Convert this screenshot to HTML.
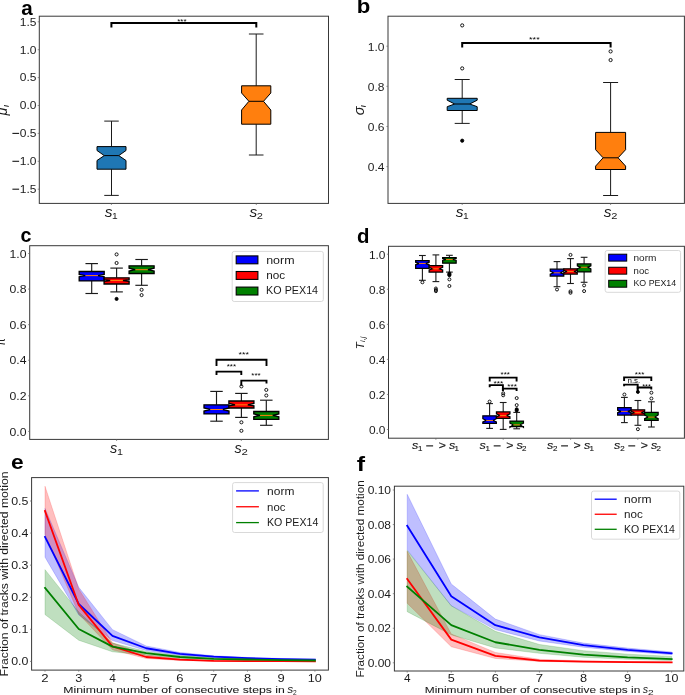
<!DOCTYPE html>
<html><head><meta charset="utf-8"><style>
html,body{margin:0;padding:0;background:#fff;width:685px;height:695px;overflow:hidden}
svg{display:block;will-change:transform}
text{font-family:"Liberation Sans", sans-serif}
</style></head><body>
<svg width="685" height="695" viewBox="0 0 685 695">
<rect x="0" y="0" width="685" height="695" fill="#fff"/>
<text x="21.38" y="14.5" font-family='"Liberation Sans", sans-serif' font-size="19.5" font-weight="bold" font-style="normal" text-anchor="start" fill="#000" textLength="11.49" lengthAdjust="spacingAndGlyphs" >a</text>
<rect x="39.3" y="16.2" width="289.2" height="187.2" rx="0" fill="none" stroke="#383838" stroke-width="1" />
<line x1="37.7" y1="21.8" x2="39.3" y2="21.8" stroke="#666" stroke-width="0.7" stroke-linecap="butt" />
<text x="36.5" y="25.6" font-family='"Liberation Sans", sans-serif' font-size="10.8" font-weight="normal" font-style="normal" text-anchor="end" fill="#1a1a1a" textLength="16.67" lengthAdjust="spacingAndGlyphs" >1.5</text>
<line x1="37.7" y1="49.7" x2="39.3" y2="49.7" stroke="#666" stroke-width="0.7" stroke-linecap="butt" />
<text x="36.5" y="53.5" font-family='"Liberation Sans", sans-serif' font-size="10.8" font-weight="normal" font-style="normal" text-anchor="end" fill="#1a1a1a" textLength="16.67" lengthAdjust="spacingAndGlyphs" >1.0</text>
<line x1="37.7" y1="77.6" x2="39.3" y2="77.6" stroke="#666" stroke-width="0.7" stroke-linecap="butt" />
<text x="36.5" y="81.4" font-family='"Liberation Sans", sans-serif' font-size="10.8" font-weight="normal" font-style="normal" text-anchor="end" fill="#1a1a1a" textLength="16.67" lengthAdjust="spacingAndGlyphs" >0.5</text>
<line x1="37.7" y1="105.5" x2="39.3" y2="105.5" stroke="#666" stroke-width="0.7" stroke-linecap="butt" />
<text x="36.5" y="109.3" font-family='"Liberation Sans", sans-serif' font-size="10.8" font-weight="normal" font-style="normal" text-anchor="end" fill="#1a1a1a" textLength="16.67" lengthAdjust="spacingAndGlyphs" >0.0</text>
<line x1="37.7" y1="133.4" x2="39.3" y2="133.4" stroke="#666" stroke-width="0.7" stroke-linecap="butt" />
<text x="36.5" y="137.2" font-family='"Liberation Sans", sans-serif' font-size="10.8" font-weight="normal" font-style="normal" text-anchor="end" fill="#1a1a1a" textLength="16.67" lengthAdjust="spacingAndGlyphs" >0.5</text>
<rect x="12.4" y="132.85" width="6.7" height="1.1" rx="0" fill="#1a1a1a" stroke="none" stroke-width="1" />
<line x1="37.7" y1="161.3" x2="39.3" y2="161.3" stroke="#666" stroke-width="0.7" stroke-linecap="butt" />
<text x="36.5" y="165.1" font-family='"Liberation Sans", sans-serif' font-size="10.8" font-weight="normal" font-style="normal" text-anchor="end" fill="#1a1a1a" textLength="16.67" lengthAdjust="spacingAndGlyphs" >1.0</text>
<rect x="12.4" y="160.75" width="6.7" height="1.1" rx="0" fill="#1a1a1a" stroke="none" stroke-width="1" />
<line x1="37.7" y1="189.2" x2="39.3" y2="189.2" stroke="#666" stroke-width="0.7" stroke-linecap="butt" />
<text x="36.5" y="193" font-family='"Liberation Sans", sans-serif' font-size="10.8" font-weight="normal" font-style="normal" text-anchor="end" fill="#1a1a1a" textLength="16.67" lengthAdjust="spacingAndGlyphs" >1.5</text>
<rect x="12.4" y="188.65" width="6.7" height="1.1" rx="0" fill="#1a1a1a" stroke="none" stroke-width="1" />
<line x1="111.4" y1="203.4" x2="111.4" y2="205" stroke="#666" stroke-width="0.7" stroke-linecap="butt" />
<line x1="256.3" y1="203.4" x2="256.3" y2="205" stroke="#666" stroke-width="0.7" stroke-linecap="butt" />
<line x1="111.5" y1="121.1" x2="111.5" y2="146.6" stroke="#1a1a1a" stroke-width="1" stroke-linecap="butt" />
<line x1="111.5" y1="169.2" x2="111.5" y2="195.4" stroke="#1a1a1a" stroke-width="1" stroke-linecap="butt" />
<line x1="104.25" y1="121.1" x2="118.75" y2="121.1" stroke="#1a1a1a" stroke-width="1" stroke-linecap="butt" />
<line x1="104.25" y1="195.4" x2="118.75" y2="195.4" stroke="#1a1a1a" stroke-width="1" stroke-linecap="butt" />
<path d="M97,169.2 L126,169.2 L126,160.5 L118.75,155.6 L126,150.5 L126,146.6 L97,146.6 L97,150.5 L104.25,155.6 L97,160.5 Z" fill="#1f77b4" stroke="#000" stroke-width="1" stroke-linejoin="miter" stroke-linecap="butt" />
<line x1="104.25" y1="155.6" x2="118.75" y2="155.6" stroke="#000" stroke-width="1" stroke-linecap="butt" />
<line x1="256.2" y1="34" x2="256.2" y2="85.8" stroke="#1a1a1a" stroke-width="1" stroke-linecap="butt" />
<line x1="256.2" y1="124.2" x2="256.2" y2="155" stroke="#1a1a1a" stroke-width="1" stroke-linecap="butt" />
<line x1="248.9" y1="34" x2="263.5" y2="34" stroke="#1a1a1a" stroke-width="1" stroke-linecap="butt" />
<line x1="248.9" y1="155" x2="263.5" y2="155" stroke="#1a1a1a" stroke-width="1" stroke-linecap="butt" />
<path d="M241.6,124.2 L270.8,124.2 L270.8,110 L263.5,101.3 L270.8,93 L270.8,85.8 L241.6,85.8 L241.6,93 L248.9,101.3 L241.6,110 Z" fill="#ff7f0e" stroke="#000" stroke-width="1" stroke-linejoin="miter" stroke-linecap="butt" />
<line x1="248.9" y1="101.3" x2="263.5" y2="101.3" stroke="#000" stroke-width="1" stroke-linecap="butt" />
<path d="M111.4,27.5 L111.4,23 L256.3,23 L256.3,27.5" fill="none" stroke="#000" stroke-width="2" stroke-linejoin="miter" stroke-linecap="butt" />
<text x="177.26" y="24.09" font-family='"Liberation Sans", sans-serif' font-size="7.4" font-weight="normal" font-style="normal" text-anchor="start" fill="#000" textLength="9.38" lengthAdjust="spacingAndGlyphs" >***</text>
<text x="356.66" y="12.9" font-family='"Liberation Sans", sans-serif' font-size="19.5" font-weight="bold" font-style="normal" text-anchor="start" fill="#000" textLength="13.55" lengthAdjust="spacingAndGlyphs" >b</text>
<rect x="388" y="16.2" width="296.4" height="187.2" rx="0" fill="none" stroke="#383838" stroke-width="1" />
<line x1="386.4" y1="46.2" x2="388" y2="46.2" stroke="#666" stroke-width="0.7" stroke-linecap="butt" />
<text x="384.5" y="50.6" font-family='"Liberation Sans", sans-serif' font-size="10.8" font-weight="normal" font-style="normal" text-anchor="end" fill="#1a1a1a" textLength="16.67" lengthAdjust="spacingAndGlyphs" >1.0</text>
<line x1="386.4" y1="86.34" x2="388" y2="86.34" stroke="#666" stroke-width="0.7" stroke-linecap="butt" />
<text x="384.5" y="90.74" font-family='"Liberation Sans", sans-serif' font-size="10.8" font-weight="normal" font-style="normal" text-anchor="end" fill="#1a1a1a" textLength="16.67" lengthAdjust="spacingAndGlyphs" >0.8</text>
<line x1="386.4" y1="126.48" x2="388" y2="126.48" stroke="#666" stroke-width="0.7" stroke-linecap="butt" />
<text x="384.5" y="130.88" font-family='"Liberation Sans", sans-serif' font-size="10.8" font-weight="normal" font-style="normal" text-anchor="end" fill="#1a1a1a" textLength="16.67" lengthAdjust="spacingAndGlyphs" >0.6</text>
<line x1="386.4" y1="166.62" x2="388" y2="166.62" stroke="#666" stroke-width="0.7" stroke-linecap="butt" />
<text x="384.5" y="171.02" font-family='"Liberation Sans", sans-serif' font-size="10.8" font-weight="normal" font-style="normal" text-anchor="end" fill="#1a1a1a" textLength="16.67" lengthAdjust="spacingAndGlyphs" >0.4</text>
<line x1="462.2" y1="203.4" x2="462.2" y2="205" stroke="#666" stroke-width="0.7" stroke-linecap="butt" />
<line x1="610.6" y1="203.4" x2="610.6" y2="205" stroke="#666" stroke-width="0.7" stroke-linecap="butt" />
<line x1="462.2" y1="79.5" x2="462.2" y2="98.3" stroke="#1a1a1a" stroke-width="1" stroke-linecap="butt" />
<line x1="462.2" y1="110.5" x2="462.2" y2="123.4" stroke="#1a1a1a" stroke-width="1" stroke-linecap="butt" />
<line x1="454.7" y1="79.5" x2="469.7" y2="79.5" stroke="#1a1a1a" stroke-width="1" stroke-linecap="butt" />
<line x1="454.7" y1="123.4" x2="469.7" y2="123.4" stroke="#1a1a1a" stroke-width="1" stroke-linecap="butt" />
<path d="M447.2,110.5 L477.2,110.5 L477.2,106.7 L469.7,104 L477.2,100.2 L477.2,98.3 L447.2,98.3 L447.2,100.2 L454.7,104 L447.2,106.7 Z" fill="#1f77b4" stroke="#000" stroke-width="1" stroke-linejoin="miter" stroke-linecap="butt" />
<line x1="454.7" y1="104" x2="469.7" y2="104" stroke="#000" stroke-width="1" stroke-linecap="butt" />
<circle cx="462.2" cy="25.4" r="1.6" fill="none" stroke="#000" stroke-width="0.9"/>
<circle cx="462.2" cy="68.4" r="1.6" fill="none" stroke="#000" stroke-width="0.9"/>
<circle cx="462.2" cy="140.7" r="1.6" fill="#000" stroke="#000" stroke-width="0.9"/>
<line x1="610.6" y1="82.5" x2="610.6" y2="132.4" stroke="#1a1a1a" stroke-width="1" stroke-linecap="butt" />
<line x1="610.6" y1="169.5" x2="610.6" y2="195.5" stroke="#1a1a1a" stroke-width="1" stroke-linecap="butt" />
<line x1="603.1" y1="82.5" x2="618.1" y2="82.5" stroke="#1a1a1a" stroke-width="1" stroke-linecap="butt" />
<line x1="603.1" y1="195.5" x2="618.1" y2="195.5" stroke="#1a1a1a" stroke-width="1" stroke-linecap="butt" />
<path d="M595.6,169.5 L625.6,169.5 L625.6,166.1 L618.1,157.8 L625.6,149.7 L625.6,132.4 L595.6,132.4 L595.6,149.7 L603.1,157.8 L595.6,166.1 Z" fill="#ff7f0e" stroke="#000" stroke-width="1" stroke-linejoin="miter" stroke-linecap="butt" />
<line x1="603.1" y1="157.8" x2="618.1" y2="157.8" stroke="#000" stroke-width="1" stroke-linecap="butt" />
<circle cx="610.6" cy="51.4" r="1.6" fill="none" stroke="#000" stroke-width="0.9"/>
<circle cx="610.6" cy="60.05" r="1.6" fill="none" stroke="#000" stroke-width="0.9"/>
<path d="M462.2,47.4 L462.2,43 L610.6,43 L610.6,47.4" fill="none" stroke="#000" stroke-width="2" stroke-linejoin="miter" stroke-linecap="butt" />
<text x="529.14" y="42.29" font-family='"Liberation Sans", sans-serif' font-size="7.4" font-weight="normal" font-style="normal" text-anchor="start" fill="#000" textLength="10.52" lengthAdjust="spacingAndGlyphs" >***</text>
<text x="20.41" y="241.8" font-family='"Liberation Sans", sans-serif' font-size="19.5" font-weight="bold" font-style="normal" text-anchor="start" fill="#000" textLength="10.95" lengthAdjust="spacingAndGlyphs" >c</text>
<rect x="29.7" y="245.7" width="298.7" height="193.7" rx="0" fill="none" stroke="#383838" stroke-width="1" />
<line x1="28.1" y1="253.5" x2="29.7" y2="253.5" stroke="#666" stroke-width="0.7" stroke-linecap="butt" />
<text x="26.51" y="257.65" font-family='"Liberation Sans", sans-serif' font-size="10.8" font-weight="normal" font-style="normal" text-anchor="end" fill="#1a1a1a" textLength="16.99" lengthAdjust="spacingAndGlyphs" >1.0</text>
<line x1="28.1" y1="289.08" x2="29.7" y2="289.08" stroke="#666" stroke-width="0.7" stroke-linecap="butt" />
<text x="26.51" y="293.23" font-family='"Liberation Sans", sans-serif' font-size="10.8" font-weight="normal" font-style="normal" text-anchor="end" fill="#1a1a1a" textLength="16.99" lengthAdjust="spacingAndGlyphs" >0.8</text>
<line x1="28.1" y1="324.66" x2="29.7" y2="324.66" stroke="#666" stroke-width="0.7" stroke-linecap="butt" />
<text x="26.51" y="328.81" font-family='"Liberation Sans", sans-serif' font-size="10.8" font-weight="normal" font-style="normal" text-anchor="end" fill="#1a1a1a" textLength="16.99" lengthAdjust="spacingAndGlyphs" >0.6</text>
<line x1="28.1" y1="360.24" x2="29.7" y2="360.24" stroke="#666" stroke-width="0.7" stroke-linecap="butt" />
<text x="26.51" y="364.39" font-family='"Liberation Sans", sans-serif' font-size="10.8" font-weight="normal" font-style="normal" text-anchor="end" fill="#1a1a1a" textLength="16.99" lengthAdjust="spacingAndGlyphs" >0.4</text>
<line x1="28.1" y1="395.82" x2="29.7" y2="395.82" stroke="#666" stroke-width="0.7" stroke-linecap="butt" />
<text x="26.51" y="399.97" font-family='"Liberation Sans", sans-serif' font-size="10.8" font-weight="normal" font-style="normal" text-anchor="end" fill="#1a1a1a" textLength="16.99" lengthAdjust="spacingAndGlyphs" >0.2</text>
<line x1="28.1" y1="431.4" x2="29.7" y2="431.4" stroke="#666" stroke-width="0.7" stroke-linecap="butt" />
<text x="26.51" y="435.55" font-family='"Liberation Sans", sans-serif' font-size="10.8" font-weight="normal" font-style="normal" text-anchor="end" fill="#1a1a1a" textLength="16.99" lengthAdjust="spacingAndGlyphs" >0.0</text>
<line x1="116.6" y1="439.4" x2="116.6" y2="441" stroke="#666" stroke-width="0.7" stroke-linecap="butt" />
<line x1="241.3" y1="439.4" x2="241.3" y2="441" stroke="#666" stroke-width="0.7" stroke-linecap="butt" />
<line x1="91.7" y1="263.6" x2="91.7" y2="271.5" stroke="#1a1a1a" stroke-width="1.15" stroke-linecap="butt" />
<line x1="91.7" y1="280.9" x2="91.7" y2="293.5" stroke="#1a1a1a" stroke-width="1.15" stroke-linecap="butt" />
<line x1="85.45" y1="263.6" x2="97.95" y2="263.6" stroke="#1a1a1a" stroke-width="1.15" stroke-linecap="butt" />
<line x1="85.45" y1="293.5" x2="97.95" y2="293.5" stroke="#1a1a1a" stroke-width="1.15" stroke-linecap="butt" />
<path d="M79.2,280.9 L104.2,280.9 L104.2,276.7 L97.95,275.6 L104.2,274.4 L104.2,271.5 L79.2,271.5 L79.2,274.4 L85.45,275.6 L79.2,276.7 Z" fill="#0000ff" stroke="#000" stroke-width="1.35" stroke-linejoin="miter" stroke-linecap="butt" />
<line x1="85.45" y1="275.6" x2="97.95" y2="275.6" stroke="#ff7f0e" stroke-width="1" stroke-linecap="butt" />
<line x1="116.6" y1="268.1" x2="116.6" y2="277.8" stroke="#1a1a1a" stroke-width="1.15" stroke-linecap="butt" />
<line x1="116.6" y1="284" x2="116.6" y2="291.9" stroke="#1a1a1a" stroke-width="1.15" stroke-linecap="butt" />
<line x1="110.35" y1="268.1" x2="122.85" y2="268.1" stroke="#1a1a1a" stroke-width="1.15" stroke-linecap="butt" />
<line x1="110.35" y1="291.9" x2="122.85" y2="291.9" stroke="#1a1a1a" stroke-width="1.15" stroke-linecap="butt" />
<path d="M104.1,284 L129.1,284 L129.1,281.3 L122.85,280.5 L129.1,279.6 L129.1,277.8 L104.1,277.8 L104.1,279.6 L110.35,280.5 L104.1,281.3 Z" fill="#ff0000" stroke="#000" stroke-width="1.35" stroke-linejoin="miter" stroke-linecap="butt" />
<line x1="110.35" y1="280.5" x2="122.85" y2="280.5" stroke="#ff7f0e" stroke-width="1" stroke-linecap="butt" />
<circle cx="116.6" cy="254.4" r="1.55" fill="none" stroke="#000" stroke-width="0.9"/>
<circle cx="116.6" cy="263" r="1.55" fill="none" stroke="#000" stroke-width="0.9"/>
<circle cx="116.6" cy="298.9" r="1.55" fill="#000" stroke="#000" stroke-width="0.9"/>
<line x1="141.6" y1="259.5" x2="141.6" y2="265.8" stroke="#1a1a1a" stroke-width="1.15" stroke-linecap="butt" />
<line x1="141.6" y1="273.5" x2="141.6" y2="285.3" stroke="#1a1a1a" stroke-width="1.15" stroke-linecap="butt" />
<line x1="135.35" y1="259.5" x2="147.85" y2="259.5" stroke="#1a1a1a" stroke-width="1.15" stroke-linecap="butt" />
<line x1="135.35" y1="285.3" x2="147.85" y2="285.3" stroke="#1a1a1a" stroke-width="1.15" stroke-linecap="butt" />
<path d="M129.1,273.5 L154.1,273.5 L154.1,271 L147.85,269.7 L154.1,268.2 L154.1,265.8 L129.1,265.8 L129.1,268.2 L135.35,269.7 L129.1,271 Z" fill="#008000" stroke="#000" stroke-width="1.35" stroke-linejoin="miter" stroke-linecap="butt" />
<line x1="135.35" y1="269.7" x2="147.85" y2="269.7" stroke="#ff7f0e" stroke-width="1" stroke-linecap="butt" />
<circle cx="141.6" cy="289.8" r="1.55" fill="none" stroke="#000" stroke-width="0.9"/>
<circle cx="141.6" cy="295.1" r="1.55" fill="none" stroke="#000" stroke-width="0.9"/>
<line x1="216.5" y1="391.4" x2="216.5" y2="404.8" stroke="#1a1a1a" stroke-width="1.15" stroke-linecap="butt" />
<line x1="216.5" y1="413.9" x2="216.5" y2="421.2" stroke="#1a1a1a" stroke-width="1.15" stroke-linecap="butt" />
<line x1="210.25" y1="391.4" x2="222.75" y2="391.4" stroke="#1a1a1a" stroke-width="1.15" stroke-linecap="butt" />
<line x1="210.25" y1="421.2" x2="222.75" y2="421.2" stroke="#1a1a1a" stroke-width="1.15" stroke-linecap="butt" />
<path d="M204,413.9 L229,413.9 L229,411 L222.75,409.5 L229,408 L229,404.8 L204,404.8 L204,408 L210.25,409.5 L204,411 Z" fill="#0000ff" stroke="#000" stroke-width="1.35" stroke-linejoin="miter" stroke-linecap="butt" />
<line x1="210.25" y1="409.5" x2="222.75" y2="409.5" stroke="#ff7f0e" stroke-width="1" stroke-linecap="butt" />
<line x1="241.4" y1="393.4" x2="241.4" y2="401" stroke="#1a1a1a" stroke-width="1.15" stroke-linecap="butt" />
<line x1="241.4" y1="408" x2="241.4" y2="417.4" stroke="#1a1a1a" stroke-width="1.15" stroke-linecap="butt" />
<line x1="235.15" y1="393.4" x2="247.65" y2="393.4" stroke="#1a1a1a" stroke-width="1.15" stroke-linecap="butt" />
<line x1="235.15" y1="417.4" x2="247.65" y2="417.4" stroke="#1a1a1a" stroke-width="1.15" stroke-linecap="butt" />
<path d="M228.9,408 L253.9,408 L253.9,405.9 L247.65,404.8 L253.9,403.4 L253.9,401 L228.9,401 L228.9,403.4 L235.15,404.8 L228.9,405.9 Z" fill="#ff0000" stroke="#000" stroke-width="1.35" stroke-linejoin="miter" stroke-linecap="butt" />
<line x1="235.15" y1="404.8" x2="247.65" y2="404.8" stroke="#ff7f0e" stroke-width="1" stroke-linecap="butt" />
<circle cx="241.4" cy="386.4" r="1.55" fill="none" stroke="#000" stroke-width="0.9"/>
<circle cx="241.4" cy="422.3" r="1.55" fill="none" stroke="#000" stroke-width="0.9"/>
<circle cx="241.4" cy="430.8" r="1.55" fill="none" stroke="#000" stroke-width="0.9"/>
<line x1="266.3" y1="400.2" x2="266.3" y2="411.5" stroke="#1a1a1a" stroke-width="1.15" stroke-linecap="butt" />
<line x1="266.3" y1="419.4" x2="266.3" y2="425.3" stroke="#1a1a1a" stroke-width="1.15" stroke-linecap="butt" />
<line x1="260.05" y1="400.2" x2="272.55" y2="400.2" stroke="#1a1a1a" stroke-width="1.15" stroke-linecap="butt" />
<line x1="260.05" y1="425.3" x2="272.55" y2="425.3" stroke="#1a1a1a" stroke-width="1.15" stroke-linecap="butt" />
<path d="M253.8,419.4 L278.8,419.4 L278.8,416.8 L272.55,415.4 L278.8,413.9 L278.8,411.5 L253.8,411.5 L253.8,413.9 L260.05,415.4 L253.8,416.8 Z" fill="#008000" stroke="#000" stroke-width="1.35" stroke-linejoin="miter" stroke-linecap="butt" />
<line x1="260.05" y1="415.4" x2="272.55" y2="415.4" stroke="#ff7f0e" stroke-width="1" stroke-linecap="butt" />
<circle cx="266.3" cy="389.9" r="1.55" fill="none" stroke="#000" stroke-width="0.9"/>
<circle cx="266.3" cy="395.5" r="1.55" fill="none" stroke="#000" stroke-width="0.9"/>
<path d="M216.5,365.9 L216.5,359.7 L266.5,359.7 L266.5,365.9" fill="none" stroke="#000" stroke-width="1.9" stroke-linejoin="miter" stroke-linecap="butt" />
<path d="M216.5,374.9 L216.5,371.6 L241.3,371.6 L241.3,374.9" fill="none" stroke="#000" stroke-width="1.9" stroke-linejoin="miter" stroke-linecap="butt" />
<path d="M241.3,385.8 L241.3,380.6 L266.5,380.6 L266.5,383.4" fill="none" stroke="#000" stroke-width="1.9" stroke-linejoin="miter" stroke-linecap="butt" />
<text x="238.55" y="356.89" font-family='"Liberation Sans", sans-serif' font-size="7.4" font-weight="normal" font-style="normal" text-anchor="start" fill="#000" textLength="10.31" lengthAdjust="spacingAndGlyphs" >***</text>
<text x="226.66" y="369.19" font-family='"Liberation Sans", sans-serif' font-size="7.4" font-weight="normal" font-style="normal" text-anchor="start" fill="#000" textLength="9.38" lengthAdjust="spacingAndGlyphs" >***</text>
<text x="251.36" y="378.19" font-family='"Liberation Sans", sans-serif' font-size="7.4" font-weight="normal" font-style="normal" text-anchor="start" fill="#000" textLength="9.38" lengthAdjust="spacingAndGlyphs" >***</text>
<rect x="232.2" y="251.4" width="91.1" height="50.1" rx="2" fill="#fff" stroke="#d9d9d9" stroke-width="1" />
<rect x="236.2" y="255.9" width="21.7" height="7.9" rx="0" fill="#0000ff" stroke="#000" stroke-width="1.1" />
<text x="266.16" y="263.5" font-family='"Liberation Sans", sans-serif' font-size="10.5" font-weight="normal" font-style="normal" text-anchor="start" fill="#1a1a1a" textLength="28.36" lengthAdjust="spacingAndGlyphs" >norm</text>
<rect x="236.2" y="271.5" width="21.7" height="7.9" rx="0" fill="#ff0000" stroke="#000" stroke-width="1.1" />
<text x="266.21" y="279.1" font-family='"Liberation Sans", sans-serif' font-size="10.5" font-weight="normal" font-style="normal" text-anchor="start" fill="#1a1a1a" textLength="18.91" lengthAdjust="spacingAndGlyphs" >noc</text>
<rect x="236.2" y="287.1" width="21.7" height="7.9" rx="0" fill="#008000" stroke="#000" stroke-width="1.1" />
<text x="266.11" y="294.4" font-family='"Liberation Sans", sans-serif' font-size="10.5" font-weight="normal" font-style="normal" text-anchor="start" fill="#1a1a1a" textLength="51.99" lengthAdjust="spacingAndGlyphs" >KO PEX14</text>
<text x="357.08" y="243.1" font-family='"Liberation Sans", sans-serif' font-size="19.5" font-weight="bold" font-style="normal" text-anchor="start" fill="#000" textLength="12.46" lengthAdjust="spacingAndGlyphs" >d</text>
<rect x="388.5" y="246.3" width="295.9" height="191.9" rx="0" fill="none" stroke="#383838" stroke-width="1" />
<line x1="386.9" y1="254.2" x2="388.5" y2="254.2" stroke="#666" stroke-width="0.7" stroke-linecap="butt" />
<text x="385.5" y="258.8" font-family='"Liberation Sans", sans-serif' font-size="10.8" font-weight="normal" font-style="normal" text-anchor="end" fill="#1a1a1a" textLength="16.56" lengthAdjust="spacingAndGlyphs" >1.0</text>
<line x1="386.9" y1="289.26" x2="388.5" y2="289.26" stroke="#666" stroke-width="0.7" stroke-linecap="butt" />
<text x="385.5" y="293.86" font-family='"Liberation Sans", sans-serif' font-size="10.8" font-weight="normal" font-style="normal" text-anchor="end" fill="#1a1a1a" textLength="16.56" lengthAdjust="spacingAndGlyphs" >0.8</text>
<line x1="386.9" y1="324.32" x2="388.5" y2="324.32" stroke="#666" stroke-width="0.7" stroke-linecap="butt" />
<text x="385.5" y="328.92" font-family='"Liberation Sans", sans-serif' font-size="10.8" font-weight="normal" font-style="normal" text-anchor="end" fill="#1a1a1a" textLength="16.56" lengthAdjust="spacingAndGlyphs" >0.6</text>
<line x1="386.9" y1="359.38" x2="388.5" y2="359.38" stroke="#666" stroke-width="0.7" stroke-linecap="butt" />
<text x="385.5" y="363.98" font-family='"Liberation Sans", sans-serif' font-size="10.8" font-weight="normal" font-style="normal" text-anchor="end" fill="#1a1a1a" textLength="16.56" lengthAdjust="spacingAndGlyphs" >0.4</text>
<line x1="386.9" y1="394.44" x2="388.5" y2="394.44" stroke="#666" stroke-width="0.7" stroke-linecap="butt" />
<text x="385.5" y="399.04" font-family='"Liberation Sans", sans-serif' font-size="10.8" font-weight="normal" font-style="normal" text-anchor="end" fill="#1a1a1a" textLength="16.56" lengthAdjust="spacingAndGlyphs" >0.2</text>
<line x1="386.9" y1="429.5" x2="388.5" y2="429.5" stroke="#666" stroke-width="0.7" stroke-linecap="butt" />
<text x="385.5" y="434.1" font-family='"Liberation Sans", sans-serif' font-size="10.8" font-weight="normal" font-style="normal" text-anchor="end" fill="#1a1a1a" textLength="16.56" lengthAdjust="spacingAndGlyphs" >0.0</text>
<line x1="435.9" y1="438.2" x2="435.9" y2="439.8" stroke="#666" stroke-width="0.7" stroke-linecap="butt" />
<line x1="503.2" y1="438.2" x2="503.2" y2="439.8" stroke="#666" stroke-width="0.7" stroke-linecap="butt" />
<line x1="570.6" y1="438.2" x2="570.6" y2="439.8" stroke="#666" stroke-width="0.7" stroke-linecap="butt" />
<line x1="637.8" y1="438.2" x2="637.8" y2="439.8" stroke="#666" stroke-width="0.7" stroke-linecap="butt" />
<line x1="422.4" y1="255.5" x2="422.4" y2="260.6" stroke="#1a1a1a" stroke-width="1.1" stroke-linecap="butt" />
<line x1="422.4" y1="268.4" x2="422.4" y2="280.3" stroke="#1a1a1a" stroke-width="1.1" stroke-linecap="butt" />
<line x1="419.02" y1="255.5" x2="425.77" y2="255.5" stroke="#1a1a1a" stroke-width="1.1" stroke-linecap="butt" />
<line x1="419.02" y1="280.3" x2="425.77" y2="280.3" stroke="#1a1a1a" stroke-width="1.1" stroke-linecap="butt" />
<path d="M415.65,268.4 L429.15,268.4 L429.15,264.8 L425.77,263.5 L429.15,262.2 L429.15,260.6 L415.65,260.6 L415.65,262.2 L419.02,263.5 L415.65,264.8 Z" fill="#0000ff" stroke="#000" stroke-width="1.25" stroke-linejoin="miter" stroke-linecap="butt" />
<line x1="419.02" y1="263.5" x2="425.77" y2="263.5" stroke="#ff7f0e" stroke-width="0.9" stroke-linecap="butt" />
<circle cx="422.4" cy="282.3" r="1.5" fill="none" stroke="#000" stroke-width="0.9"/>
<line x1="435.9" y1="254.9" x2="435.9" y2="265.7" stroke="#1a1a1a" stroke-width="1.1" stroke-linecap="butt" />
<line x1="435.9" y1="272.1" x2="435.9" y2="281.6" stroke="#1a1a1a" stroke-width="1.1" stroke-linecap="butt" />
<line x1="432.52" y1="254.9" x2="439.27" y2="254.9" stroke="#1a1a1a" stroke-width="1.1" stroke-linecap="butt" />
<line x1="432.52" y1="281.6" x2="439.27" y2="281.6" stroke="#1a1a1a" stroke-width="1.1" stroke-linecap="butt" />
<path d="M429.15,272.1 L442.65,272.1 L442.65,269.9 L439.27,268.8 L442.65,267.3 L442.65,265.7 L429.15,265.7 L429.15,267.3 L432.52,268.8 L429.15,269.9 Z" fill="#ff0000" stroke="#000" stroke-width="1.25" stroke-linejoin="miter" stroke-linecap="butt" />
<line x1="432.52" y1="268.8" x2="439.27" y2="268.8" stroke="#ff7f0e" stroke-width="0.9" stroke-linecap="butt" />
<circle cx="435.9" cy="288.5" r="1.5" fill="none" stroke="#000" stroke-width="0.9"/>
<circle cx="435.9" cy="290" r="1.5" fill="none" stroke="#000" stroke-width="0.9"/>
<circle cx="435.9" cy="291.2" r="1.5" fill="none" stroke="#000" stroke-width="0.9"/>
<line x1="449.4" y1="255.3" x2="449.4" y2="257.5" stroke="#1a1a1a" stroke-width="1.1" stroke-linecap="butt" />
<line x1="449.4" y1="263.2" x2="449.4" y2="272.1" stroke="#1a1a1a" stroke-width="1.1" stroke-linecap="butt" />
<line x1="446.02" y1="255.3" x2="452.77" y2="255.3" stroke="#1a1a1a" stroke-width="1.1" stroke-linecap="butt" />
<line x1="446.02" y1="272.1" x2="452.77" y2="272.1" stroke="#1a1a1a" stroke-width="1.1" stroke-linecap="butt" />
<path d="M442.65,263.2 L456.15,263.2 L456.15,260.4 L452.77,259.5 L456.15,258.6 L456.15,257.5 L442.65,257.5 L442.65,258.6 L446.02,259.5 L442.65,260.4 Z" fill="#008000" stroke="#000" stroke-width="1.25" stroke-linejoin="miter" stroke-linecap="butt" />
<line x1="446.02" y1="259.5" x2="452.77" y2="259.5" stroke="#ff7f0e" stroke-width="0.9" stroke-linecap="butt" />
<circle cx="449.4" cy="279.4" r="1.5" fill="none" stroke="#000" stroke-width="0.9"/>
<circle cx="449.4" cy="286" r="1.5" fill="none" stroke="#000" stroke-width="0.9"/>
<circle cx="449.4" cy="273.5" r="1.5" fill="#000" stroke="#000" stroke-width="0.9"/>
<circle cx="449.4" cy="274.5" r="1.5" fill="#000" stroke="#000" stroke-width="0.9"/>
<circle cx="449.4" cy="275.2" r="1.5" fill="#000" stroke="#000" stroke-width="0.9"/>
<line x1="489.6" y1="403.6" x2="489.6" y2="415.8" stroke="#1a1a1a" stroke-width="1.1" stroke-linecap="butt" />
<line x1="489.6" y1="423.3" x2="489.6" y2="428.4" stroke="#1a1a1a" stroke-width="1.1" stroke-linecap="butt" />
<line x1="486.23" y1="403.6" x2="492.98" y2="403.6" stroke="#1a1a1a" stroke-width="1.1" stroke-linecap="butt" />
<line x1="486.23" y1="428.4" x2="492.98" y2="428.4" stroke="#1a1a1a" stroke-width="1.1" stroke-linecap="butt" />
<path d="M482.85,423.3 L496.35,423.3 L496.35,421.9 L492.98,420.5 L496.35,418.7 L496.35,415.8 L482.85,415.8 L482.85,418.7 L486.23,420.5 L482.85,421.9 Z" fill="#0000ff" stroke="#000" stroke-width="1.25" stroke-linejoin="miter" stroke-linecap="butt" />
<line x1="486.23" y1="420.5" x2="492.98" y2="420.5" stroke="#ff7f0e" stroke-width="0.9" stroke-linecap="butt" />
<circle cx="489.6" cy="401.6" r="1.5" fill="none" stroke="#000" stroke-width="0.9"/>
<line x1="503.2" y1="402.5" x2="503.2" y2="411.9" stroke="#1a1a1a" stroke-width="1.1" stroke-linecap="butt" />
<line x1="503.2" y1="418.4" x2="503.2" y2="429.4" stroke="#1a1a1a" stroke-width="1.1" stroke-linecap="butt" />
<line x1="499.82" y1="402.5" x2="506.57" y2="402.5" stroke="#1a1a1a" stroke-width="1.1" stroke-linecap="butt" />
<line x1="499.82" y1="429.4" x2="506.57" y2="429.4" stroke="#1a1a1a" stroke-width="1.1" stroke-linecap="butt" />
<path d="M496.45,418.4 L509.95,418.4 L509.95,416.8 L506.57,415.5 L509.95,413.8 L509.95,411.9 L496.45,411.9 L496.45,413.8 L499.82,415.5 L496.45,416.8 Z" fill="#ff0000" stroke="#000" stroke-width="1.25" stroke-linejoin="miter" stroke-linecap="butt" />
<line x1="499.82" y1="415.5" x2="506.57" y2="415.5" stroke="#ff7f0e" stroke-width="0.9" stroke-linecap="butt" />
<circle cx="503.2" cy="393.3" r="1.5" fill="none" stroke="#000" stroke-width="0.9"/>
<circle cx="503.2" cy="395.3" r="1.5" fill="none" stroke="#000" stroke-width="0.9"/>
<line x1="516.7" y1="412.4" x2="516.7" y2="421" stroke="#1a1a1a" stroke-width="1.1" stroke-linecap="butt" />
<line x1="516.7" y1="426.5" x2="516.7" y2="428.8" stroke="#1a1a1a" stroke-width="1.1" stroke-linecap="butt" />
<line x1="513.33" y1="412.4" x2="520.08" y2="412.4" stroke="#1a1a1a" stroke-width="1.1" stroke-linecap="butt" />
<line x1="513.33" y1="428.8" x2="520.08" y2="428.8" stroke="#1a1a1a" stroke-width="1.1" stroke-linecap="butt" />
<path d="M509.95,426.5 L523.45,426.5 L523.45,427.3 L520.08,424.8 L523.45,423.2 L523.45,421 L509.95,421 L509.95,423.2 L513.33,424.8 L509.95,427.3 Z" fill="#008000" stroke="#000" stroke-width="1.25" stroke-linejoin="miter" stroke-linecap="butt" />
<line x1="513.33" y1="424.8" x2="520.08" y2="424.8" stroke="#ff7f0e" stroke-width="0.9" stroke-linecap="butt" />
<circle cx="516.7" cy="398.1" r="1.5" fill="none" stroke="#000" stroke-width="0.9"/>
<circle cx="516.7" cy="405.1" r="1.5" fill="none" stroke="#000" stroke-width="0.9"/>
<circle cx="516.7" cy="409.2" r="1.5" fill="#000" stroke="#000" stroke-width="0.9"/>
<circle cx="516.7" cy="410.5" r="1.5" fill="#000" stroke="#000" stroke-width="0.9"/>
<line x1="557" y1="261.6" x2="557" y2="269.2" stroke="#1a1a1a" stroke-width="1.1" stroke-linecap="butt" />
<line x1="557" y1="276.1" x2="557" y2="286.7" stroke="#1a1a1a" stroke-width="1.1" stroke-linecap="butt" />
<line x1="553.62" y1="261.6" x2="560.38" y2="261.6" stroke="#1a1a1a" stroke-width="1.1" stroke-linecap="butt" />
<line x1="553.62" y1="286.7" x2="560.38" y2="286.7" stroke="#1a1a1a" stroke-width="1.1" stroke-linecap="butt" />
<path d="M550.25,276.1 L563.75,276.1 L563.75,274.1 L560.38,272.8 L563.75,271.2 L563.75,269.2 L550.25,269.2 L550.25,271.2 L553.62,272.8 L550.25,274.1 Z" fill="#0000ff" stroke="#000" stroke-width="1.25" stroke-linejoin="miter" stroke-linecap="butt" />
<line x1="553.62" y1="272.8" x2="560.38" y2="272.8" stroke="#ff7f0e" stroke-width="0.9" stroke-linecap="butt" />
<circle cx="557" cy="289.5" r="1.5" fill="none" stroke="#000" stroke-width="0.9"/>
<line x1="570.5" y1="258.6" x2="570.5" y2="268.8" stroke="#1a1a1a" stroke-width="1.1" stroke-linecap="butt" />
<line x1="570.5" y1="274.1" x2="570.5" y2="283.5" stroke="#1a1a1a" stroke-width="1.1" stroke-linecap="butt" />
<line x1="567.12" y1="258.6" x2="573.88" y2="258.6" stroke="#1a1a1a" stroke-width="1.1" stroke-linecap="butt" />
<line x1="567.12" y1="283.5" x2="573.88" y2="283.5" stroke="#1a1a1a" stroke-width="1.1" stroke-linecap="butt" />
<path d="M563.75,274.1 L577.25,274.1 L577.25,272.7 L573.88,271.5 L577.25,270.3 L577.25,268.8 L563.75,268.8 L563.75,270.3 L567.12,271.5 L563.75,272.7 Z" fill="#ff0000" stroke="#000" stroke-width="1.25" stroke-linejoin="miter" stroke-linecap="butt" />
<line x1="567.12" y1="271.5" x2="573.88" y2="271.5" stroke="#ff7f0e" stroke-width="0.9" stroke-linecap="butt" />
<circle cx="570.5" cy="254.9" r="1.5" fill="none" stroke="#000" stroke-width="0.9"/>
<circle cx="570.5" cy="291.3" r="1.5" fill="none" stroke="#000" stroke-width="0.9"/>
<circle cx="570.5" cy="292.8" r="1.5" fill="none" stroke="#000" stroke-width="0.9"/>
<line x1="584.1" y1="257.3" x2="584.1" y2="263.9" stroke="#1a1a1a" stroke-width="1.1" stroke-linecap="butt" />
<line x1="584.1" y1="271.9" x2="584.1" y2="282.3" stroke="#1a1a1a" stroke-width="1.1" stroke-linecap="butt" />
<line x1="580.73" y1="257.3" x2="587.48" y2="257.3" stroke="#1a1a1a" stroke-width="1.1" stroke-linecap="butt" />
<line x1="580.73" y1="282.3" x2="587.48" y2="282.3" stroke="#1a1a1a" stroke-width="1.1" stroke-linecap="butt" />
<path d="M577.35,271.9 L590.85,271.9 L590.85,268.8 L587.48,267.3 L590.85,265.9 L590.85,263.9 L577.35,263.9 L577.35,265.9 L580.73,267.3 L577.35,268.8 Z" fill="#008000" stroke="#000" stroke-width="1.25" stroke-linejoin="miter" stroke-linecap="butt" />
<line x1="580.73" y1="267.3" x2="587.48" y2="267.3" stroke="#ff7f0e" stroke-width="0.9" stroke-linecap="butt" />
<circle cx="584.1" cy="285.4" r="1.5" fill="none" stroke="#000" stroke-width="0.9"/>
<circle cx="584.1" cy="291.1" r="1.5" fill="none" stroke="#000" stroke-width="0.9"/>
<line x1="624.4" y1="397.4" x2="624.4" y2="407.6" stroke="#1a1a1a" stroke-width="1.1" stroke-linecap="butt" />
<line x1="624.4" y1="415.1" x2="624.4" y2="422.6" stroke="#1a1a1a" stroke-width="1.1" stroke-linecap="butt" />
<line x1="621.02" y1="397.4" x2="627.77" y2="397.4" stroke="#1a1a1a" stroke-width="1.1" stroke-linecap="butt" />
<line x1="621.02" y1="422.6" x2="627.77" y2="422.6" stroke="#1a1a1a" stroke-width="1.1" stroke-linecap="butt" />
<path d="M617.65,415.1 L631.15,415.1 L631.15,412.6 L627.77,411.4 L631.15,410.2 L631.15,407.6 L617.65,407.6 L617.65,410.2 L621.02,411.4 L617.65,412.6 Z" fill="#0000ff" stroke="#000" stroke-width="1.25" stroke-linejoin="miter" stroke-linecap="butt" />
<line x1="621.02" y1="411.4" x2="627.77" y2="411.4" stroke="#ff7f0e" stroke-width="0.9" stroke-linecap="butt" />
<circle cx="624.4" cy="394.5" r="1.5" fill="none" stroke="#000" stroke-width="0.9"/>
<line x1="637.9" y1="400.5" x2="637.9" y2="409.8" stroke="#1a1a1a" stroke-width="1.1" stroke-linecap="butt" />
<line x1="637.9" y1="415.1" x2="637.9" y2="425.3" stroke="#1a1a1a" stroke-width="1.1" stroke-linecap="butt" />
<line x1="634.52" y1="400.5" x2="641.27" y2="400.5" stroke="#1a1a1a" stroke-width="1.1" stroke-linecap="butt" />
<line x1="634.52" y1="425.3" x2="641.27" y2="425.3" stroke="#1a1a1a" stroke-width="1.1" stroke-linecap="butt" />
<path d="M631.15,415.1 L644.65,415.1 L644.65,413.6 L641.27,412.6 L644.65,411.4 L644.65,409.8 L631.15,409.8 L631.15,411.4 L634.52,412.6 L631.15,413.6 Z" fill="#ff0000" stroke="#000" stroke-width="1.25" stroke-linejoin="miter" stroke-linecap="butt" />
<line x1="634.52" y1="412.6" x2="641.27" y2="412.6" stroke="#ff7f0e" stroke-width="0.9" stroke-linecap="butt" />
<circle cx="637.9" cy="429.2" r="1.5" fill="none" stroke="#000" stroke-width="0.9"/>
<circle cx="637.9" cy="391.9" r="1.5" fill="#000" stroke="#000" stroke-width="0.9"/>
<line x1="651.4" y1="401.8" x2="651.4" y2="412.4" stroke="#1a1a1a" stroke-width="1.1" stroke-linecap="butt" />
<line x1="651.4" y1="420.4" x2="651.4" y2="427" stroke="#1a1a1a" stroke-width="1.1" stroke-linecap="butt" />
<line x1="648.02" y1="401.8" x2="654.77" y2="401.8" stroke="#1a1a1a" stroke-width="1.1" stroke-linecap="butt" />
<line x1="648.02" y1="427" x2="654.77" y2="427" stroke="#1a1a1a" stroke-width="1.1" stroke-linecap="butt" />
<path d="M644.65,420.4 L658.15,420.4 L658.15,418.6 L654.77,417.1 L658.15,414.9 L658.15,412.4 L644.65,412.4 L644.65,414.9 L648.02,417.1 L644.65,418.6 Z" fill="#008000" stroke="#000" stroke-width="1.25" stroke-linejoin="miter" stroke-linecap="butt" />
<line x1="648.02" y1="417.1" x2="654.77" y2="417.1" stroke="#ff7f0e" stroke-width="0.9" stroke-linecap="butt" />
<circle cx="651.4" cy="392.7" r="1.5" fill="none" stroke="#000" stroke-width="0.9"/>
<circle cx="651.4" cy="398.5" r="1.5" fill="none" stroke="#000" stroke-width="0.9"/>
<path d="M489.7,381.4 L489.7,377.6 L516.6,377.6 L516.6,381.4" fill="none" stroke="#000" stroke-width="1.9" stroke-linejoin="miter" stroke-linecap="butt" />
<path d="M489.7,387.2 L489.7,385.1 L502.9,385.1 L502.9,390.7" fill="none" stroke="#000" stroke-width="1.9" stroke-linejoin="miter" stroke-linecap="butt" />
<path d="M502.9,391 L502.9,388.6 L516.6,388.6 L516.6,391" fill="none" stroke="#000" stroke-width="1.9" stroke-linejoin="miter" stroke-linecap="butt" />
<text x="500.56" y="377.29" font-family='"Liberation Sans", sans-serif' font-size="7.4" font-weight="normal" font-style="normal" text-anchor="start" fill="#000" textLength="9.28" lengthAdjust="spacingAndGlyphs" >***</text>
<text x="493.55" y="385.69" font-family='"Liberation Sans", sans-serif' font-size="7.4" font-weight="normal" font-style="normal" text-anchor="start" fill="#000" textLength="9.79" lengthAdjust="spacingAndGlyphs" >***</text>
<text x="507.26" y="389.49" font-family='"Liberation Sans", sans-serif' font-size="7.4" font-weight="normal" font-style="normal" text-anchor="start" fill="#000" textLength="9.59" lengthAdjust="spacingAndGlyphs" >***</text>
<path d="M624.1,381.1 L624.1,377.4 L651.3,377.4 L651.3,381.1" fill="none" stroke="#000" stroke-width="1.9" stroke-linejoin="miter" stroke-linecap="butt" />
<path d="M624.1,386.3 L624.1,384.6 L637.7,384.6 L637.7,392.4" fill="none" stroke="#000" stroke-width="1.9" stroke-linejoin="miter" stroke-linecap="butt" />
<path d="M637.7,389.5 L637.7,387.5 L651.3,387.5 L651.3,389.5" fill="none" stroke="#000" stroke-width="1.9" stroke-linejoin="miter" stroke-linecap="butt" />
<text x="634.86" y="377.29" font-family='"Liberation Sans", sans-serif' font-size="7.4" font-weight="normal" font-style="normal" text-anchor="start" fill="#000" textLength="9.48" lengthAdjust="spacingAndGlyphs" >***</text>
<text x="642.17" y="388.69" font-family='"Liberation Sans", sans-serif' font-size="7.4" font-weight="normal" font-style="normal" text-anchor="start" fill="#000" textLength="8.66" lengthAdjust="spacingAndGlyphs" >***</text>
<text x="627.46" y="383.1" font-family='"Liberation Sans", sans-serif' font-size="7.4" font-weight="normal" font-style="normal" text-anchor="start" fill="#000" textLength="12.85" lengthAdjust="spacingAndGlyphs" >n.s.</text>
<rect x="605.2" y="250.5" width="75.4" height="41.8" rx="2" fill="#fff" stroke="#d9d9d9" stroke-width="1" />
<rect x="608.7" y="254.2" width="18" height="6.9" rx="0" fill="#0000ff" stroke="#000" stroke-width="1" />
<text x="633.52" y="260.9" font-family='"Liberation Sans", sans-serif' font-size="8.9" font-weight="normal" font-style="normal" text-anchor="start" fill="#1a1a1a" textLength="22.94" lengthAdjust="spacingAndGlyphs" >norm</text>
<rect x="608.7" y="267.25" width="18" height="6.9" rx="0" fill="#ff0000" stroke="#000" stroke-width="1" />
<text x="633.55" y="273.6" font-family='"Liberation Sans", sans-serif' font-size="8.9" font-weight="normal" font-style="normal" text-anchor="start" fill="#1a1a1a" textLength="15.51" lengthAdjust="spacingAndGlyphs" >noc</text>
<rect x="608.7" y="280.3" width="18" height="6.9" rx="0" fill="#008000" stroke="#000" stroke-width="1" />
<text x="633.47" y="286.3" font-family='"Liberation Sans", sans-serif' font-size="8.9" font-weight="normal" font-style="normal" text-anchor="start" fill="#1a1a1a" textLength="42.68" lengthAdjust="spacingAndGlyphs" >KO PEX14</text>
<text x="11.09" y="469.3" font-family='"Liberation Sans", sans-serif' font-size="19.5" font-weight="bold" font-style="normal" text-anchor="start" fill="#000" textLength="12.68" lengthAdjust="spacingAndGlyphs" >e</text>
<rect x="31.6" y="477.6" width="296.8" height="192.5" rx="0" fill="none" stroke="#383838" stroke-width="1" />
<line x1="30" y1="661.4" x2="31.6" y2="661.4" stroke="#666" stroke-width="0.7" stroke-linecap="butt" />
<text x="28.42" y="665.1" font-family='"Liberation Sans", sans-serif' font-size="10.8" font-weight="normal" font-style="normal" text-anchor="end" fill="#1a1a1a" textLength="17.2" lengthAdjust="spacingAndGlyphs" >0.0</text>
<line x1="30" y1="629.32" x2="31.6" y2="629.32" stroke="#666" stroke-width="0.7" stroke-linecap="butt" />
<text x="28.42" y="633.02" font-family='"Liberation Sans", sans-serif' font-size="10.8" font-weight="normal" font-style="normal" text-anchor="end" fill="#1a1a1a" textLength="17.2" lengthAdjust="spacingAndGlyphs" >0.1</text>
<line x1="30" y1="597.24" x2="31.6" y2="597.24" stroke="#666" stroke-width="0.7" stroke-linecap="butt" />
<text x="28.42" y="600.94" font-family='"Liberation Sans", sans-serif' font-size="10.8" font-weight="normal" font-style="normal" text-anchor="end" fill="#1a1a1a" textLength="17.2" lengthAdjust="spacingAndGlyphs" >0.2</text>
<line x1="30" y1="565.16" x2="31.6" y2="565.16" stroke="#666" stroke-width="0.7" stroke-linecap="butt" />
<text x="28.42" y="568.86" font-family='"Liberation Sans", sans-serif' font-size="10.8" font-weight="normal" font-style="normal" text-anchor="end" fill="#1a1a1a" textLength="17.2" lengthAdjust="spacingAndGlyphs" >0.3</text>
<line x1="30" y1="533.08" x2="31.6" y2="533.08" stroke="#666" stroke-width="0.7" stroke-linecap="butt" />
<text x="28.42" y="536.78" font-family='"Liberation Sans", sans-serif' font-size="10.8" font-weight="normal" font-style="normal" text-anchor="end" fill="#1a1a1a" textLength="17.2" lengthAdjust="spacingAndGlyphs" >0.4</text>
<line x1="30" y1="501" x2="31.6" y2="501" stroke="#666" stroke-width="0.7" stroke-linecap="butt" />
<text x="28.42" y="504.7" font-family='"Liberation Sans", sans-serif' font-size="10.8" font-weight="normal" font-style="normal" text-anchor="end" fill="#1a1a1a" textLength="17.2" lengthAdjust="spacingAndGlyphs" >0.5</text>
<line x1="45" y1="670.1" x2="45" y2="671.7" stroke="#666" stroke-width="0.7" stroke-linecap="butt" />
<line x1="78.74" y1="670.1" x2="78.74" y2="671.7" stroke="#666" stroke-width="0.7" stroke-linecap="butt" />
<line x1="112.48" y1="670.1" x2="112.48" y2="671.7" stroke="#666" stroke-width="0.7" stroke-linecap="butt" />
<line x1="146.22" y1="670.1" x2="146.22" y2="671.7" stroke="#666" stroke-width="0.7" stroke-linecap="butt" />
<line x1="179.96" y1="670.1" x2="179.96" y2="671.7" stroke="#666" stroke-width="0.7" stroke-linecap="butt" />
<line x1="213.7" y1="670.1" x2="213.7" y2="671.7" stroke="#666" stroke-width="0.7" stroke-linecap="butt" />
<line x1="247.44" y1="670.1" x2="247.44" y2="671.7" stroke="#666" stroke-width="0.7" stroke-linecap="butt" />
<line x1="281.18" y1="670.1" x2="281.18" y2="671.7" stroke="#666" stroke-width="0.7" stroke-linecap="butt" />
<line x1="314.92" y1="670.1" x2="314.92" y2="671.7" stroke="#666" stroke-width="0.7" stroke-linecap="butt" />
<text x="356.76" y="470.6" font-family='"Liberation Sans", sans-serif' font-size="19.5" font-weight="bold" font-style="normal" text-anchor="start" fill="#000" textLength="8.29" lengthAdjust="spacingAndGlyphs" >f</text>
<rect x="394.4" y="486.2" width="289.4" height="184.8" rx="0" fill="none" stroke="#383838" stroke-width="1" />
<line x1="392.8" y1="662.8" x2="394.4" y2="662.8" stroke="#666" stroke-width="0.7" stroke-linecap="butt" />
<text x="391" y="666.95" font-family='"Liberation Sans", sans-serif' font-size="10.8" font-weight="normal" font-style="normal" text-anchor="end" fill="#1a1a1a" textLength="23.33" lengthAdjust="spacingAndGlyphs" >0.00</text>
<line x1="392.8" y1="628.24" x2="394.4" y2="628.24" stroke="#666" stroke-width="0.7" stroke-linecap="butt" />
<text x="391" y="632.39" font-family='"Liberation Sans", sans-serif' font-size="10.8" font-weight="normal" font-style="normal" text-anchor="end" fill="#1a1a1a" textLength="23.33" lengthAdjust="spacingAndGlyphs" >0.02</text>
<line x1="392.8" y1="593.68" x2="394.4" y2="593.68" stroke="#666" stroke-width="0.7" stroke-linecap="butt" />
<text x="391" y="597.83" font-family='"Liberation Sans", sans-serif' font-size="10.8" font-weight="normal" font-style="normal" text-anchor="end" fill="#1a1a1a" textLength="23.33" lengthAdjust="spacingAndGlyphs" >0.04</text>
<line x1="392.8" y1="559.12" x2="394.4" y2="559.12" stroke="#666" stroke-width="0.7" stroke-linecap="butt" />
<text x="391" y="563.27" font-family='"Liberation Sans", sans-serif' font-size="10.8" font-weight="normal" font-style="normal" text-anchor="end" fill="#1a1a1a" textLength="23.33" lengthAdjust="spacingAndGlyphs" >0.06</text>
<line x1="392.8" y1="524.56" x2="394.4" y2="524.56" stroke="#666" stroke-width="0.7" stroke-linecap="butt" />
<text x="391" y="528.71" font-family='"Liberation Sans", sans-serif' font-size="10.8" font-weight="normal" font-style="normal" text-anchor="end" fill="#1a1a1a" textLength="23.33" lengthAdjust="spacingAndGlyphs" >0.08</text>
<line x1="392.8" y1="490" x2="394.4" y2="490" stroke="#666" stroke-width="0.7" stroke-linecap="butt" />
<text x="391" y="494.15" font-family='"Liberation Sans", sans-serif' font-size="10.8" font-weight="normal" font-style="normal" text-anchor="end" fill="#1a1a1a" textLength="23.33" lengthAdjust="spacingAndGlyphs" >0.10</text>
<line x1="407.2" y1="671" x2="407.2" y2="672.6" stroke="#666" stroke-width="0.7" stroke-linecap="butt" />
<line x1="451.28" y1="671" x2="451.28" y2="672.6" stroke="#666" stroke-width="0.7" stroke-linecap="butt" />
<line x1="495.36" y1="671" x2="495.36" y2="672.6" stroke="#666" stroke-width="0.7" stroke-linecap="butt" />
<line x1="539.44" y1="671" x2="539.44" y2="672.6" stroke="#666" stroke-width="0.7" stroke-linecap="butt" />
<line x1="583.52" y1="671" x2="583.52" y2="672.6" stroke="#666" stroke-width="0.7" stroke-linecap="butt" />
<line x1="627.6" y1="671" x2="627.6" y2="672.6" stroke="#666" stroke-width="0.7" stroke-linecap="butt" />
<line x1="671.68" y1="671" x2="671.68" y2="672.6" stroke="#666" stroke-width="0.7" stroke-linecap="butt" />
<text x="104.71" y="216.9" font-family='"Liberation Sans", sans-serif' font-size="14.5" font-weight="normal" font-style="italic" text-anchor="start" fill="#1a1a1a" textLength="7.77" lengthAdjust="spacingAndGlyphs" >s</text>
<text x="112.12" y="218.9" font-family='"Liberation Sans", sans-serif' font-size="9.8" font-weight="normal" font-style="normal" text-anchor="start" fill="#1a1a1a" textLength="5.67" lengthAdjust="spacingAndGlyphs" >1</text>
<text x="249.46" y="216.9" font-family='"Liberation Sans", sans-serif' font-size="14.5" font-weight="normal" font-style="italic" text-anchor="start" fill="#1a1a1a" textLength="7.77" lengthAdjust="spacingAndGlyphs" >s</text>
<text x="256.87" y="218.9" font-family='"Liberation Sans", sans-serif' font-size="9.8" font-weight="normal" font-style="normal" text-anchor="start" fill="#1a1a1a" textLength="6.17" lengthAdjust="spacingAndGlyphs" >2</text>
<text x="455.71" y="216.9" font-family='"Liberation Sans", sans-serif' font-size="14.5" font-weight="normal" font-style="italic" text-anchor="start" fill="#1a1a1a" textLength="7.77" lengthAdjust="spacingAndGlyphs" >s</text>
<text x="463.12" y="218.9" font-family='"Liberation Sans", sans-serif' font-size="9.8" font-weight="normal" font-style="normal" text-anchor="start" fill="#1a1a1a" textLength="5.67" lengthAdjust="spacingAndGlyphs" >1</text>
<text x="603.86" y="216.9" font-family='"Liberation Sans", sans-serif' font-size="14.5" font-weight="normal" font-style="italic" text-anchor="start" fill="#1a1a1a" textLength="7.77" lengthAdjust="spacingAndGlyphs" >s</text>
<text x="611.27" y="218.9" font-family='"Liberation Sans", sans-serif' font-size="9.8" font-weight="normal" font-style="normal" text-anchor="start" fill="#1a1a1a" textLength="6.17" lengthAdjust="spacingAndGlyphs" >2</text>
<text x="109.92" y="452.8" font-family='"Liberation Sans", sans-serif' font-size="14" font-weight="normal" font-style="italic" text-anchor="start" fill="#1a1a1a" textLength="7.24" lengthAdjust="spacingAndGlyphs" >s</text>
<text x="117.02" y="454.9" font-family='"Liberation Sans", sans-serif' font-size="9.8" font-weight="normal" font-style="normal" text-anchor="start" fill="#1a1a1a" textLength="5.97" lengthAdjust="spacingAndGlyphs" >1</text>
<text x="234.42" y="452.8" font-family='"Liberation Sans", sans-serif' font-size="14" font-weight="normal" font-style="italic" text-anchor="start" fill="#1a1a1a" textLength="7.24" lengthAdjust="spacingAndGlyphs" >s</text>
<text x="241.52" y="454.9" font-family='"Liberation Sans", sans-serif' font-size="9.8" font-weight="normal" font-style="normal" text-anchor="start" fill="#1a1a1a" textLength="6.37" lengthAdjust="spacingAndGlyphs" >2</text>
<text x="412" y="449" font-family='"Liberation Sans", sans-serif' font-size="10.8" font-weight="normal" font-style="italic" text-anchor="start" fill="#1a1a1a" textLength="6.3" lengthAdjust="spacingAndGlyphs" stroke="#1a1a1a" stroke-width="0.15">s</text>
<text x="418.1" y="450.8" font-family='"Liberation Sans", sans-serif' font-size="7.5" font-weight="normal" font-style="normal" text-anchor="start" fill="#1a1a1a" textLength="4.4" lengthAdjust="spacingAndGlyphs" stroke="#1a1a1a" stroke-width="0.15">1</text>
<rect x="426.2" y="445.3" width="6.9" height="1.15" rx="0" fill="#1a1a1a" stroke="none" stroke-width="1" />
<text x="438.7" y="449" font-family='"Liberation Sans", sans-serif' font-size="10.8" font-weight="normal" font-style="normal" text-anchor="start" fill="#1a1a1a" textLength="7.2" lengthAdjust="spacingAndGlyphs" stroke="#1a1a1a" stroke-width="0.15">></text>
<text x="449" y="449" font-family='"Liberation Sans", sans-serif' font-size="10.8" font-weight="normal" font-style="italic" text-anchor="start" fill="#1a1a1a" textLength="6.3" lengthAdjust="spacingAndGlyphs" stroke="#1a1a1a" stroke-width="0.15">s</text>
<text x="454.5" y="450.8" font-family='"Liberation Sans", sans-serif' font-size="7.5" font-weight="normal" font-style="normal" text-anchor="start" fill="#1a1a1a" textLength="4.4" lengthAdjust="spacingAndGlyphs" stroke="#1a1a1a" stroke-width="0.15">1</text>
<text x="479.5" y="449" font-family='"Liberation Sans", sans-serif' font-size="10.8" font-weight="normal" font-style="italic" text-anchor="start" fill="#1a1a1a" textLength="6.3" lengthAdjust="spacingAndGlyphs" stroke="#1a1a1a" stroke-width="0.15">s</text>
<text x="485.6" y="450.8" font-family='"Liberation Sans", sans-serif' font-size="7.5" font-weight="normal" font-style="normal" text-anchor="start" fill="#1a1a1a" textLength="4.4" lengthAdjust="spacingAndGlyphs" stroke="#1a1a1a" stroke-width="0.15">1</text>
<rect x="493.7" y="445.3" width="6.9" height="1.15" rx="0" fill="#1a1a1a" stroke="none" stroke-width="1" />
<text x="506.2" y="449" font-family='"Liberation Sans", sans-serif' font-size="10.8" font-weight="normal" font-style="normal" text-anchor="start" fill="#1a1a1a" textLength="7.2" lengthAdjust="spacingAndGlyphs" stroke="#1a1a1a" stroke-width="0.15">></text>
<text x="516.5" y="449" font-family='"Liberation Sans", sans-serif' font-size="10.8" font-weight="normal" font-style="italic" text-anchor="start" fill="#1a1a1a" textLength="6.3" lengthAdjust="spacingAndGlyphs" stroke="#1a1a1a" stroke-width="0.15">s</text>
<text x="522" y="450.8" font-family='"Liberation Sans", sans-serif' font-size="7.5" font-weight="normal" font-style="normal" text-anchor="start" fill="#1a1a1a" textLength="4.4" lengthAdjust="spacingAndGlyphs" stroke="#1a1a1a" stroke-width="0.15">2</text>
<text x="546.9" y="449" font-family='"Liberation Sans", sans-serif' font-size="10.8" font-weight="normal" font-style="italic" text-anchor="start" fill="#1a1a1a" textLength="6.3" lengthAdjust="spacingAndGlyphs" stroke="#1a1a1a" stroke-width="0.15">s</text>
<text x="553" y="450.8" font-family='"Liberation Sans", sans-serif' font-size="7.5" font-weight="normal" font-style="normal" text-anchor="start" fill="#1a1a1a" textLength="4.4" lengthAdjust="spacingAndGlyphs" stroke="#1a1a1a" stroke-width="0.15">2</text>
<rect x="561.1" y="445.3" width="6.9" height="1.15" rx="0" fill="#1a1a1a" stroke="none" stroke-width="1" />
<text x="573.6" y="449" font-family='"Liberation Sans", sans-serif' font-size="10.8" font-weight="normal" font-style="normal" text-anchor="start" fill="#1a1a1a" textLength="7.2" lengthAdjust="spacingAndGlyphs" stroke="#1a1a1a" stroke-width="0.15">></text>
<text x="583.9" y="449" font-family='"Liberation Sans", sans-serif' font-size="10.8" font-weight="normal" font-style="italic" text-anchor="start" fill="#1a1a1a" textLength="6.3" lengthAdjust="spacingAndGlyphs" stroke="#1a1a1a" stroke-width="0.15">s</text>
<text x="589.4" y="450.8" font-family='"Liberation Sans", sans-serif' font-size="7.5" font-weight="normal" font-style="normal" text-anchor="start" fill="#1a1a1a" textLength="4.4" lengthAdjust="spacingAndGlyphs" stroke="#1a1a1a" stroke-width="0.15">1</text>
<text x="614.1" y="449" font-family='"Liberation Sans", sans-serif' font-size="10.8" font-weight="normal" font-style="italic" text-anchor="start" fill="#1a1a1a" textLength="6.3" lengthAdjust="spacingAndGlyphs" stroke="#1a1a1a" stroke-width="0.15">s</text>
<text x="620.2" y="450.8" font-family='"Liberation Sans", sans-serif' font-size="7.5" font-weight="normal" font-style="normal" text-anchor="start" fill="#1a1a1a" textLength="4.4" lengthAdjust="spacingAndGlyphs" stroke="#1a1a1a" stroke-width="0.15">2</text>
<rect x="628.3" y="445.3" width="6.9" height="1.15" rx="0" fill="#1a1a1a" stroke="none" stroke-width="1" />
<text x="640.8" y="449" font-family='"Liberation Sans", sans-serif' font-size="10.8" font-weight="normal" font-style="normal" text-anchor="start" fill="#1a1a1a" textLength="7.2" lengthAdjust="spacingAndGlyphs" stroke="#1a1a1a" stroke-width="0.15">></text>
<text x="651.1" y="449" font-family='"Liberation Sans", sans-serif' font-size="10.8" font-weight="normal" font-style="italic" text-anchor="start" fill="#1a1a1a" textLength="6.3" lengthAdjust="spacingAndGlyphs" stroke="#1a1a1a" stroke-width="0.15">s</text>
<text x="656.6" y="450.8" font-family='"Liberation Sans", sans-serif' font-size="7.5" font-weight="normal" font-style="normal" text-anchor="start" fill="#1a1a1a" textLength="4.4" lengthAdjust="spacingAndGlyphs" stroke="#1a1a1a" stroke-width="0.15">2</text>
<text transform="translate(6.6,115.4) rotate(-90)" font-family='"Liberation Sans", sans-serif' font-size="14.5" font-style="italic" fill="#1a1a1a">μ</text>
<text transform="translate(8.9,107) rotate(-90)" font-family='"Liberation Sans", sans-serif' font-size="9.5" font-style="italic" fill="#1a1a1a">ι</text>
<text transform="translate(363.7,115.2) rotate(-90)" font-family='"Liberation Sans", sans-serif' font-size="14.5" font-style="italic" fill="#1a1a1a">σ</text>
<text transform="translate(365.9,107.2) rotate(-90)" font-family='"Liberation Sans", sans-serif' font-size="9.5" font-style="italic" fill="#1a1a1a">ι</text>
<text transform="translate(5.2,345.8) rotate(-90)" font-family='"Liberation Sans", sans-serif' font-size="11" font-style="normal" fill="#1a1a1a">π</text>
<text transform="translate(363.8,349.2) rotate(-90)" font-family='"Liberation Sans", sans-serif' font-size="11.5" font-style="italic" fill="#1a1a1a">T</text>
<text transform="translate(365.3,342) rotate(-90)" font-family='"Liberation Sans", sans-serif' font-size="7.6" font-style="italic" fill="#1a1a1a">i,j</text>
<text transform="translate(8,676.4) rotate(-90)" font-family='"Liberation Sans", sans-serif' font-size="10.2" font-style="normal" font-weight="normal" fill="#1a1a1a" textLength="204.87" lengthAdjust="spacingAndGlyphs">Fraction of tracks with directed motion</text>
<text transform="translate(364.3,677.47) rotate(-90)" font-family='"Liberation Sans", sans-serif' font-size="10" font-style="normal" font-weight="normal" fill="#1a1a1a" textLength="197.2" lengthAdjust="spacingAndGlyphs">Fraction of tracks with directed motion</text>
<text x="63.29" y="692.9" font-family='"Liberation Sans", sans-serif' font-size="9.9" font-weight="normal" font-style="normal" text-anchor="start" fill="#1a1a1a" textLength="221.59" lengthAdjust="spacingAndGlyphs" stroke="#1a1a1a" stroke-width="0.06">Minimum number of consecutive steps in</text>
<text x="287.27" y="692.8" font-family='"Liberation Sans", sans-serif' font-size="10.8" font-weight="normal" font-style="italic" text-anchor="start" fill="#1a1a1a" textLength="5.97" lengthAdjust="spacingAndGlyphs" >s</text>
<text x="292.97" y="694.8" font-family='"Liberation Sans", sans-serif' font-size="7.6" font-weight="normal" font-style="normal" text-anchor="start" fill="#1a1a1a" textLength="3.67" lengthAdjust="spacingAndGlyphs" >2</text>
<text x="424.72" y="692.9" font-family='"Liberation Sans", sans-serif' font-size="9.8" font-weight="normal" font-style="normal" text-anchor="start" fill="#1a1a1a" textLength="215.65" lengthAdjust="spacingAndGlyphs" stroke="#1a1a1a" stroke-width="0.06">Minimum number of consecutive steps in</text>
<text x="642.87" y="692.8" font-family='"Liberation Sans", sans-serif' font-size="10.8" font-weight="normal" font-style="italic" text-anchor="start" fill="#1a1a1a" textLength="5.34" lengthAdjust="spacingAndGlyphs" >s</text>
<text x="648.09" y="694.8" font-family='"Liberation Sans", sans-serif' font-size="7.6" font-weight="normal" font-style="normal" text-anchor="start" fill="#1a1a1a" textLength="5.62" lengthAdjust="spacingAndGlyphs" >2</text>
<text x="41.34" y="681.9" font-family='"Liberation Sans", sans-serif' font-size="10.8" font-weight="normal" font-style="normal" text-anchor="start" fill="#1a1a1a" textLength="7.33" lengthAdjust="spacingAndGlyphs" >2</text>
<text x="75.27" y="681.9" font-family='"Liberation Sans", sans-serif' font-size="10.8" font-weight="normal" font-style="normal" text-anchor="start" fill="#1a1a1a" textLength="7.03" lengthAdjust="spacingAndGlyphs" >3</text>
<text x="109.21" y="681.9" font-family='"Liberation Sans", sans-serif' font-size="10.8" font-weight="normal" font-style="normal" text-anchor="start" fill="#1a1a1a" textLength="6.61" lengthAdjust="spacingAndGlyphs" >4</text>
<text x="142.71" y="681.9" font-family='"Liberation Sans", sans-serif' font-size="10.8" font-weight="normal" font-style="normal" text-anchor="start" fill="#1a1a1a" textLength="7.03" lengthAdjust="spacingAndGlyphs" >5</text>
<text x="176.31" y="681.9" font-family='"Liberation Sans", sans-serif' font-size="10.8" font-weight="normal" font-style="normal" text-anchor="start" fill="#1a1a1a" textLength="7.22" lengthAdjust="spacingAndGlyphs" >6</text>
<text x="210.04" y="681.9" font-family='"Liberation Sans", sans-serif' font-size="10.8" font-weight="normal" font-style="normal" text-anchor="start" fill="#1a1a1a" textLength="7.33" lengthAdjust="spacingAndGlyphs" >7</text>
<text x="243.9" y="681.9" font-family='"Liberation Sans", sans-serif' font-size="10.8" font-weight="normal" font-style="normal" text-anchor="start" fill="#1a1a1a" textLength="7.1" lengthAdjust="spacingAndGlyphs" >8</text>
<text x="277.56" y="681.9" font-family='"Liberation Sans", sans-serif' font-size="10.8" font-weight="normal" font-style="normal" text-anchor="start" fill="#1a1a1a" textLength="7.22" lengthAdjust="spacingAndGlyphs" >9</text>
<text x="307.67" y="681.9" font-family='"Liberation Sans", sans-serif' font-size="10.8" font-weight="normal" font-style="normal" text-anchor="start" fill="#1a1a1a" textLength="14.05" lengthAdjust="spacingAndGlyphs" >10</text>
<text x="403.93" y="681.6" font-family='"Liberation Sans", sans-serif' font-size="10.8" font-weight="normal" font-style="normal" text-anchor="start" fill="#1a1a1a" textLength="6.61" lengthAdjust="spacingAndGlyphs" >4</text>
<text x="447.77" y="681.6" font-family='"Liberation Sans", sans-serif' font-size="10.8" font-weight="normal" font-style="normal" text-anchor="start" fill="#1a1a1a" textLength="7.03" lengthAdjust="spacingAndGlyphs" >5</text>
<text x="491.71" y="681.6" font-family='"Liberation Sans", sans-serif' font-size="10.8" font-weight="normal" font-style="normal" text-anchor="start" fill="#1a1a1a" textLength="7.22" lengthAdjust="spacingAndGlyphs" >6</text>
<text x="535.78" y="681.6" font-family='"Liberation Sans", sans-serif' font-size="10.8" font-weight="normal" font-style="normal" text-anchor="start" fill="#1a1a1a" textLength="7.33" lengthAdjust="spacingAndGlyphs" >7</text>
<text x="579.98" y="681.6" font-family='"Liberation Sans", sans-serif' font-size="10.8" font-weight="normal" font-style="normal" text-anchor="start" fill="#1a1a1a" textLength="7.1" lengthAdjust="spacingAndGlyphs" >8</text>
<text x="623.98" y="681.6" font-family='"Liberation Sans", sans-serif' font-size="10.8" font-weight="normal" font-style="normal" text-anchor="start" fill="#1a1a1a" textLength="7.22" lengthAdjust="spacingAndGlyphs" >9</text>
<text x="664.55" y="681.6" font-family='"Liberation Sans", sans-serif' font-size="10.8" font-weight="normal" font-style="normal" text-anchor="start" fill="#1a1a1a" textLength="13.83" lengthAdjust="spacingAndGlyphs" >10</text>
<defs><clipPath id="clipE"><rect x="31.6" y="477.6" width="296.8" height="192.5"/></clipPath><clipPath id="clipF"><rect x="394.4" y="486.2" width="289.4" height="184.8"/></clipPath></defs>
<g clip-path="url(#clipE)">
<path d="M45,508.38 L78.74,587.3 L112.48,629.64 L146.22,646 L179.96,652.42 L213.7,655.79 L247.44,657.49 L281.18,658.51 L314.92,659.22 L314.92,660.05 L281.18,659.6 L247.44,658.83 L213.7,657.55 L179.96,655.3 L146.22,650.49 L112.48,640.55 L78.74,614.88 L45,557.14 Z" fill="#0000ff" fill-opacity="0.25" stroke="#0000ff" stroke-opacity="0.25" stroke-width="0.7"/>
<path d="M45,486.24 L78.74,588.9 L112.48,642.79 L146.22,654.98 L179.96,658.83 L213.7,660.44 L247.44,660.76 L281.18,661.08 L314.92,661.21 L314.92,661.37 L281.18,661.34 L247.44,661.27 L213.7,661.14 L179.96,660.44 L146.22,658.51 L112.48,649.85 L78.74,613.92 L45,534.36 Z" fill="#ff0000" fill-opacity="0.25" stroke="#ff0000" stroke-opacity="0.25" stroke-width="0.7"/>
<path d="M45,569.65 L78.74,612 L112.48,643.11 L146.22,651.46 L179.96,655.63 L213.7,657.87 L247.44,658.83 L281.18,659.48 L314.92,660.05 L314.92,660.76 L281.18,660.44 L247.44,660.05 L213.7,659.48 L179.96,658.19 L146.22,655.3 L112.48,651.78 L78.74,640.23 L45,614.56 Z" fill="#008000" fill-opacity="0.25" stroke="#008000" stroke-opacity="0.25" stroke-width="0.7"/>
<path d="M45,536.93 L78.74,603.98 L112.48,635.9 L146.22,648.25 L179.96,653.89 L213.7,656.68 L247.44,658.19 L281.18,659.09 L314.92,659.64" fill="none" stroke="#0000ff" stroke-width="1.8" stroke-linejoin="round" stroke-linecap="square"/>
<path d="M45,510.94 L78.74,604.94 L112.48,646.32 L146.22,657.01 L179.96,659.7 L213.7,660.82 L247.44,661.08 L281.18,661.21 L314.92,661.3" fill="none" stroke="#ff0000" stroke-width="1.8" stroke-linejoin="round" stroke-linecap="square"/>
<path d="M45,587.94 L78.74,629 L112.48,646.64 L146.22,653.19 L179.96,657.01 L213.7,658.83 L247.44,659.48 L281.18,660.05 L314.92,660.5" fill="none" stroke="#008000" stroke-width="1.8" stroke-linejoin="round" stroke-linecap="square"/>
</g>
<g clip-path="url(#clipF)">
<path d="M407.2,494.32 L451.28,584 L495.36,619.08 L539.44,634.63 L583.52,643.1 L627.6,648.11 L671.68,651.91 L671.68,654.68 L627.6,651.4 L583.52,647.25 L539.44,641.03 L495.36,629.62 L451.28,605.78 L407.2,549.96 Z" fill="#0000ff" fill-opacity="0.25" stroke="#0000ff" stroke-opacity="0.25" stroke-width="0.7"/>
<path d="M407.2,551.34 L451.28,633.94 L495.36,652.43 L539.44,659.34 L583.52,660.9 L627.6,661.59 L671.68,661.94 L671.68,662.63 L627.6,662.45 L583.52,662.11 L539.44,661.42 L495.36,658.48 L451.28,646.73 L407.2,603.18 Z" fill="#ff0000" fill-opacity="0.25" stroke="#ff0000" stroke-opacity="0.25" stroke-width="0.7"/>
<path d="M407.2,550.48 L451.28,605.78 L495.36,631.35 L539.44,644.48 L583.52,650.7 L627.6,654.16 L671.68,656.41 L671.68,660.55 L627.6,659.34 L583.52,657.27 L539.44,653.3 L495.36,647.94 L451.28,634.81 L407.2,611.65 Z" fill="#008000" fill-opacity="0.25" stroke="#008000" stroke-opacity="0.25" stroke-width="0.7"/>
<path d="M407.2,525.77 L451.28,596.27 L495.36,625.13 L539.44,637.4 L583.52,645.17 L627.6,649.84 L671.68,653.3" fill="none" stroke="#0000ff" stroke-width="1.8" stroke-linejoin="round" stroke-linecap="square"/>
<path d="M407.2,578.99 L451.28,639.64 L495.36,655.89 L539.44,660.55 L583.52,661.59 L627.6,662.11 L671.68,662.28" fill="none" stroke="#ff0000" stroke-width="1.8" stroke-linejoin="round" stroke-linecap="square"/>
<path d="M407.2,586.6 L451.28,625.13 L495.36,642.24 L539.44,649.84 L583.52,654.68 L627.6,657.44 L671.68,659" fill="none" stroke="#008000" stroke-width="1.8" stroke-linejoin="round" stroke-linecap="square"/>
</g>
<rect x="232.6" y="482.6" width="90.6" height="49.9" rx="2" fill="#fff" stroke="#d9d9d9" stroke-width="1" />
<line x1="236.1" y1="490.9" x2="258.9" y2="490.9" stroke="#0000ff" stroke-width="1.3" stroke-linecap="butt" />
<text x="267.09" y="495.1" font-family='"Liberation Sans", sans-serif' font-size="10.5" font-weight="normal" font-style="normal" text-anchor="start" fill="#1a1a1a" textLength="27.3" lengthAdjust="spacingAndGlyphs" >norm</text>
<line x1="236.1" y1="506.75" x2="258.9" y2="506.75" stroke="#ff0000" stroke-width="1.3" stroke-linecap="butt" />
<text x="267.13" y="510.5" font-family='"Liberation Sans", sans-serif' font-size="10.5" font-weight="normal" font-style="normal" text-anchor="start" fill="#1a1a1a" textLength="18.38" lengthAdjust="spacingAndGlyphs" >noc</text>
<line x1="236.1" y1="522.6" x2="258.9" y2="522.6" stroke="#008000" stroke-width="1.3" stroke-linecap="butt" />
<text x="267.03" y="526.2" font-family='"Liberation Sans", sans-serif' font-size="10.5" font-weight="normal" font-style="normal" text-anchor="start" fill="#1a1a1a" textLength="51.28" lengthAdjust="spacingAndGlyphs" >KO PEX14</text>
<rect x="591.5" y="491.1" width="88.3" height="48.1" rx="2" fill="#fff" stroke="#d9d9d9" stroke-width="1" />
<line x1="594.7" y1="499.2" x2="616.7" y2="499.2" stroke="#0000ff" stroke-width="1.3" stroke-linecap="butt" />
<text x="624.08" y="502.9" font-family='"Liberation Sans", sans-serif' font-size="10.3" font-weight="normal" font-style="normal" text-anchor="start" fill="#1a1a1a" textLength="27.51" lengthAdjust="spacingAndGlyphs" >norm</text>
<line x1="594.7" y1="514.25" x2="616.7" y2="514.25" stroke="#ff0000" stroke-width="1.3" stroke-linecap="butt" />
<text x="624.11" y="517.9" font-family='"Liberation Sans", sans-serif' font-size="10.3" font-weight="normal" font-style="normal" text-anchor="start" fill="#1a1a1a" textLength="18.81" lengthAdjust="spacingAndGlyphs" >noc</text>
<line x1="594.7" y1="529.3" x2="616.7" y2="529.3" stroke="#008000" stroke-width="1.3" stroke-linecap="butt" />
<text x="624.03" y="532.9" font-family='"Liberation Sans", sans-serif' font-size="10.3" font-weight="normal" font-style="normal" text-anchor="start" fill="#1a1a1a" textLength="50.87" lengthAdjust="spacingAndGlyphs" >KO PEX14</text>
</svg></body></html>
